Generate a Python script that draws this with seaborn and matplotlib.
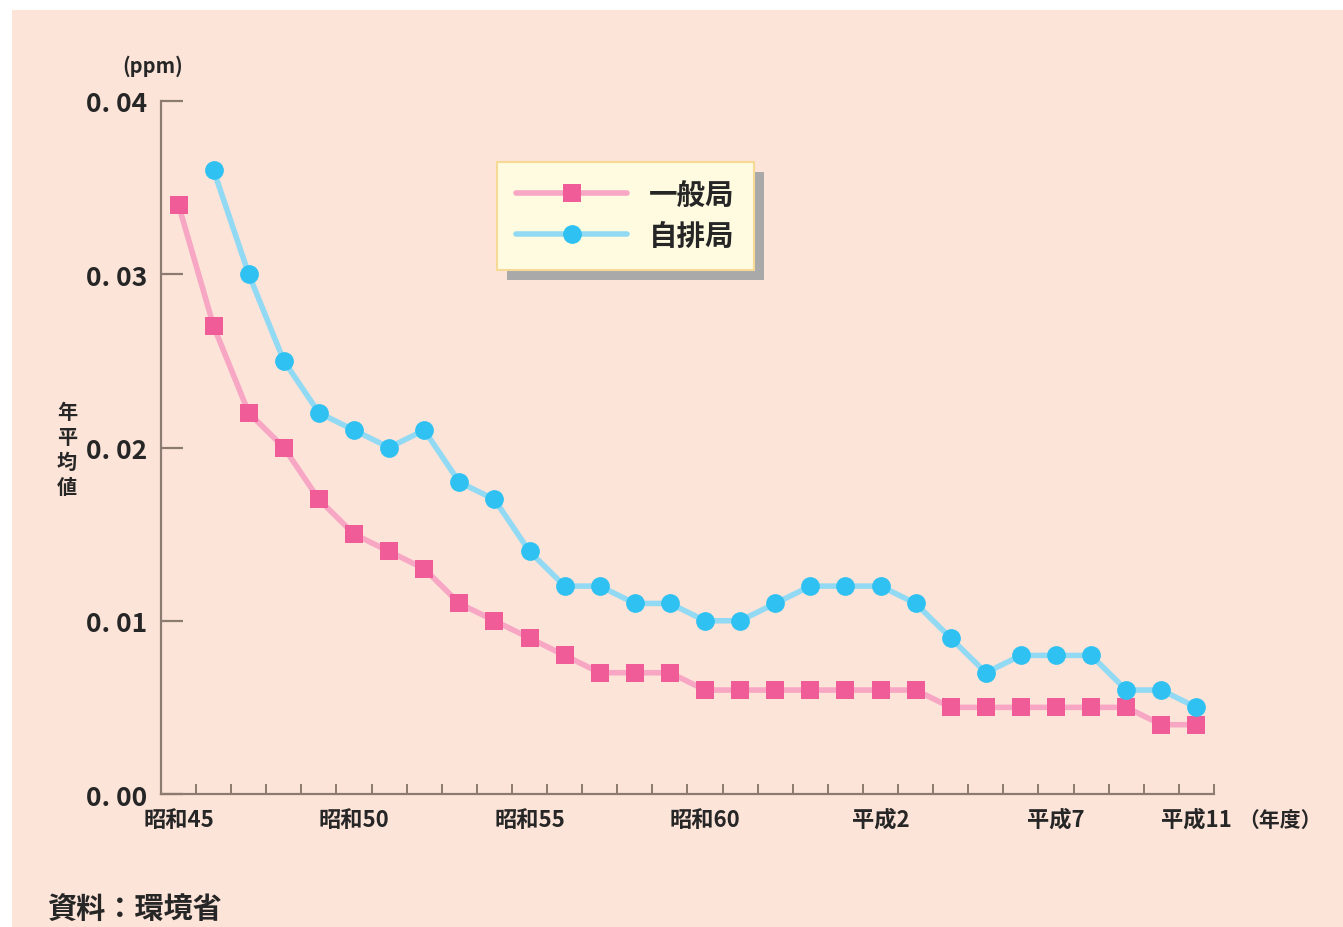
import matplotlib
matplotlib.use("Agg")
import matplotlib.pyplot as plt
import matplotlib.patches as mpatches
import matplotlib.transforms as mtransforms
from matplotlib.lines import Line2D
import seaborn as sns
import pandas as pd
import numpy as np

# ---- data ----
years = list(range(1970, 2000))
general = [0.034, 0.027, 0.022, 0.020, 0.017, 0.015, 0.014, 0.013, 0.011, 0.010,
           0.009, 0.008, 0.007, 0.007, 0.007, 0.006, 0.006, 0.006, 0.006, 0.006,
           0.006, 0.006, 0.005, 0.005, 0.005, 0.005, 0.005, 0.005, 0.004, 0.004]
roadside_years = list(range(1971, 2000))
roadside = [0.036, 0.030, 0.025, 0.022, 0.021, 0.020, 0.021, 0.018, 0.017, 0.014,
            0.012, 0.012, 0.011, 0.011, 0.010, 0.010, 0.011, 0.012, 0.012, 0.012,
            0.011, 0.009, 0.007, 0.008, 0.008, 0.008, 0.006, 0.006, 0.005]
series_names = ["一般局", "自排局"]
xtick_years = [1970, 1975, 1980, 1985, 1990, 1995, 1999]
xtick_labels = ["昭和45", "昭和50", "昭和55", "昭和60", "平成2", "平成7", "平成11"]
ytick_values = [0.00, 0.01, 0.02, 0.03, 0.04]
ytick_labels = ["0. 00", "0. 01", "0. 02", "0. 03", "0. 04"]

df_gen = pd.DataFrame({"year": years, "value": general})
df_road = pd.DataFrame({"year": roadside_years, "value": roadside})

# ---- style ----
sns.set_theme(style="white")
plt.rcParams["font.family"] = ["Noto Sans CJK JP", "DejaVu Sans"]

BG = "#FDE4D9"
AXC = "#8C7B70"
TXT = "#262626"
PINK_LINE = "#F7A6C4"
PINK_MARK = "#EF5C98"
BLUE_LINE = "#92DAF3"
BLUE_MARK = "#2EC1F1"

W, H = 1343, 928
fig = plt.figure(figsize=(W / 100, H / 100), dpi=100, facecolor="white")
fig.patches.append(mpatches.Rectangle((12 / W, 0), 1, 1 - 11 / H,
                                      transform=fig.transFigure,
                                      facecolor=BG, edgecolor="none", zorder=-10))

ax = fig.add_axes([161 / W, 1 - 795 / H, (1214 - 161) / W, (795 - 102) / H])
ax.set_facecolor("none")

sns.lineplot(data=df_gen, x="year", y="value", ax=ax, color=PINK_LINE,
             linewidth=4, marker="s", markersize=12.5,
             markerfacecolor=PINK_MARK, markeredgecolor=PINK_MARK,
             markeredgewidth=0, zorder=3)
sns.lineplot(data=df_road, x="year", y="value", ax=ax, color=BLUE_LINE,
             linewidth=4, marker="o", markersize=13.5,
             markerfacecolor=BLUE_MARK, markeredgecolor=BLUE_MARK,
             markeredgewidth=0, zorder=4)

ax.set_xlim(years[0] - 0.5, years[-1] + 0.5)
ax.set_ylim(0, 0.04)
ax.set_xlabel("")
ax.set_ylabel("")

for s in ["top", "right"]:
    ax.spines[s].set_visible(False)
for s in ["left", "bottom"]:
    ax.spines[s].set_color(AXC)
    ax.spines[s].set_linewidth(1.6)

ax.set_yticks(ytick_values)
ax.set_yticklabels(ytick_labels, fontsize=19, color=TXT, fontweight="bold")
ax.tick_params(axis="y", direction="in", length=16, width=1.6, color=AXC, pad=10,
               left=True)

ax.set_xticks(xtick_years)
ax.set_xticklabels(xtick_labels, fontsize=16, color=TXT, fontweight="bold")
ax.set_xticks([y + 0.5 for y in years], minor=True)
ax.tick_params(axis="x", which="major", length=0, pad=10, bottom=True)
ax.tick_params(axis="x", which="minor", direction="in", length=7, width=1.4,
               color=AXC, bottom=True)

# annotations
fig.text(153 / W, 1 - 66 / H, "(ppm)", fontsize=14.5, color=TXT,
         ha="center", va="center", fontweight="bold")
fig.text(67 / W, 1 - 450 / H, "年\n平\n均\n値", fontsize=14.5, color=TXT,
         ha="center", va="center", linespacing=1.25, fontweight="bold")
fig.text(1280 / W, 1 - 820 / H, "（年度）", fontsize=15, color=TXT,
         ha="center", va="center", fontweight="bold")
fig.text(48 / W, 1 - 910 / H, "資料：環境省", fontsize=21, color=TXT,
         ha="left", va="center", fontweight="bold")

# legend
handles = [
    Line2D([], [], color=PINK_LINE, linewidth=4, marker="s", markersize=12.5,
           markerfacecolor=PINK_MARK, markeredgewidth=0),
    Line2D([], [], color=BLUE_LINE, linewidth=4, marker="o", markersize=13.5,
           markerfacecolor=BLUE_MARK, markeredgewidth=0),
]
leg = ax.legend(handles, series_names, loc="upper left",
                bbox_to_anchor=(497 / W, 1 - 163 / H), bbox_transform=fig.transFigure,
                borderaxespad=0, handlelength=3.9, handletextpad=0.75,
                borderpad=0.68, labelspacing=0.45, fancybox=False, frameon=True,
                prop={"weight": "bold", "size": 20.5})
frame = leg.get_frame()
frame.set_facecolor("#FFFBE0")
frame.set_edgecolor("#F6D994")
frame.set_linewidth(1.5)
frame.set_alpha(1)
for t in leg.get_texts():
    t.set_color(TXT)
leg.set_zorder(10)

fig.canvas.draw()
bb = leg.get_window_extent()
shadow = mpatches.Rectangle((bb.x0 + 10, bb.y0 - 10), bb.width, bb.height,
                            transform=mtransforms.IdentityTransform(),
                            facecolor="#A9A9A9", edgecolor="none",
                            zorder=9, clip_on=False)
ax.add_artist(shadow)

fig.savefig("out.png", dpi=100, facecolor="white")
